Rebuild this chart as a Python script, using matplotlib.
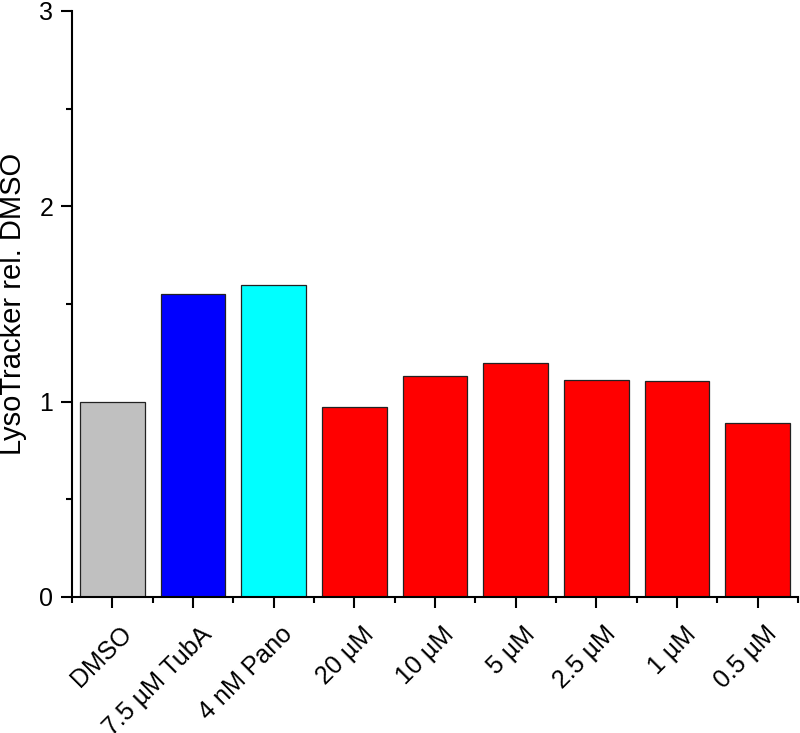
import matplotlib
matplotlib.use("Agg")
import matplotlib.pyplot as plt
import matplotlib.transforms as mtransforms
from matplotlib.ticker import MultipleLocator, FixedLocator

categories = ["DMSO", "7.5 µM TubA", "4 nM Pano", "20 µM", "10 µM", "5 µM",
              "2.5 µM", "1 µM", "0.5 µM"]
values = [1.00, 1.551, 1.597, 0.974, 1.133, 1.199, 1.112, 1.107, 0.893]
colors = ["#C0C0C0", "#0000FF", "#00FFFF", "#FF0000", "#FF0000", "#FF0000",
          "#FF0000", "#FF0000", "#FF0000"]
y_label = "LysoTracker rel. DMSO"

plt.rcParams['font.family'] = ['Liberation Sans', 'DejaVu Sans']

fig = plt.figure(figsize=(8.0, 7.33), dpi=100)
ax = fig.add_axes([72/800, 1 - 597/733, (798 - 72)/800, (597 - 11)/733])

x = list(range(len(categories)))
ax.bar(x, values, width=0.8, color=colors, edgecolor="#222222", linewidth=0.9, zorder=2)

ax.set_xlim(-0.5, len(categories) - 0.5)
ax.set_ylim(0, 3)

for s in ["top", "right"]:
    ax.spines[s].set_visible(False)
for s in ["left", "bottom"]:
    ax.spines[s].set_linewidth(1.5)
    ax.spines[s].set_clip_on(False)

ax.yaxis.set_major_locator(MultipleLocator(1))
ax.yaxis.set_minor_locator(MultipleLocator(0.5))
ax.set_xticks(x)
ax.xaxis.set_minor_locator(FixedLocator([i - 0.5 for i in range(len(categories) + 1)]))

ax.tick_params(axis="both", which="major", direction="out", length=8, width=1.5, labelsize=18)
ax.tick_params(axis="both", which="minor", direction="out", length=4, width=1.5)
ax.tick_params(axis="y", which="major", pad=5.5)
ax.tick_params(axis="x", which="major", pad=10)

ax.set_xticklabels(categories, rotation=45, ha="right", va="top", rotation_mode="anchor")
offset = mtransforms.ScaledTranslation(7/100, 0, fig.dpi_scale_trans)
for lab in ax.get_xticklabels():
    lab.set_transform(lab.get_transform() + offset)

ax.set_ylabel(y_label, fontsize=21)
ax.yaxis.set_label_coords(-45/726, 0.5)

fig.savefig("out.png", dpi=100)
